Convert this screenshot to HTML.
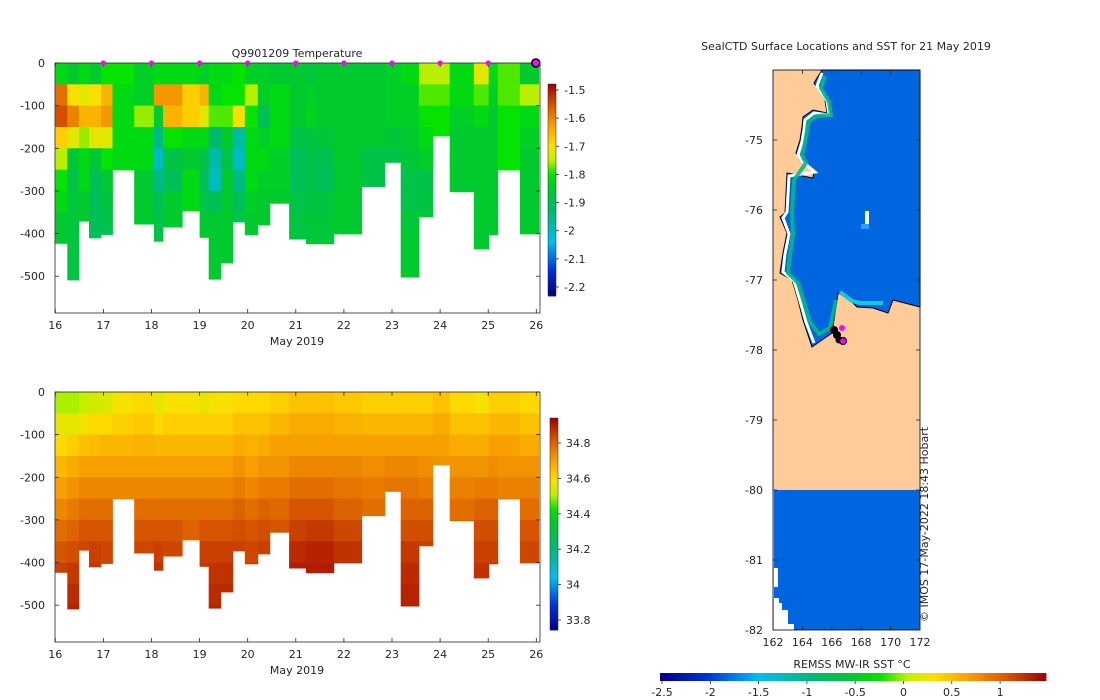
<!DOCTYPE html>
<html><head><meta charset="utf-8"><style>
body{margin:0;background:#fff;}
svg{display:block;font-family:"DejaVu Sans","Liberation Sans",sans-serif;}
text{font-size:11px;fill:#262626;}
</style></head><body>
<svg id="svg" width="1100" height="700" viewBox="0 0 1100 700">
<g id="top"></g>
<g id="bot"></g>
<g id="map">
  <rect x="773" y="70" width="147" height="560" fill="#ffcc99"/>
  <polygon fill="#0066e0" stroke="#000" stroke-width="1"
   points="822,70 814,83 825,100 827,113 813,110 803,117 802,127 800,140 796,153 800,160 814,170 813,178 787,173 785,213 780,217 787,233 783,253 780,273 792,280 798,300 803,320 812,347 832,333 838,293 850,300 857,307 873,308 888,313 893,300 920,307 920,70"/>
  <polyline fill="none" stroke="#fff" stroke-width="3"
   points="822,73 817,86 827,101 829,115 814,113 805,120 804,130 802,142 798,155 802,161 815,172 789,176 787,212 783,218 789,234 785,254 783,272 794,281 800,301 806,322 814,343"/>
  <polyline fill="none" stroke="#00b98a" stroke-width="4" stroke-opacity="0.9"
   points="825,76 821,88 829,102 831,115 817,116 808,122 807,131 805,143 802,155 806,163 794,180 792,212 793,235 790,255 788,273 798,283 804,302 810,322 819,334 830,328 836,300"/>
  <polyline fill="none" stroke="#18c8d8" stroke-width="4" points="840,292 852,301 860,303 883,303"/>
  <rect x="865" y="211" width="4" height="18" fill="#fff"/>
  <rect x="861" y="224" width="8" height="5" fill="#2aa0f0"/>
  <rect x="774" y="490" width="146" height="140" fill="#0066e0"/>
  <polygon fill="#fff" points="774,568 778,568 778,587 774,587"/>
  <polygon fill="#fff" points="774,598 779,598 779,603 782,603 782,610 788,610 788,624 794,624 794,630 774,630"/>
  <g>
    <circle cx="834" cy="330" r="4" fill="#000"/><circle cx="837" cy="335" r="4" fill="#000"/><circle cx="839" cy="340" r="3.5" fill="#000"/>
    <circle cx="842" cy="328" r="3" fill="#ff00ff"/>
    <circle cx="843" cy="341" r="3.5" fill="#ff00ff" stroke="#000" stroke-width="1.2"/>
  </g>
  <rect x="773" y="70" width="147" height="560" fill="none" stroke="#000" stroke-width="0.8"/>
</g>
</svg>
<script>
// ---------- section data ----------
const dayEdges=[16,16.25,16.49,16.70,16.95,17.19,17.64,18.05,18.24,18.64,19.0,19.19,19.44,19.69,19.94,20.21,20.46,20.86,21.21,21.42,21.79,22.37,22.85,23.18,23.56,23.85,24.20,24.70,25.01,25.20,25.66,26.05];
const maxDepth=[423,509,371,410,402,251,378,418,385,347,409,507,469,373,403,380,329,413,424,424,401,290,233,502,361,171,302,436,403,251,401];
const tempProfiles=[
[-1.82,-1.58,-1.55,-1.68,-1.75,-1.8,-1.82,-1.85,-1.85],
[-1.85,-1.7,-1.6,-1.72,-1.86,-1.88,-1.86,-1.86,-1.87,-1.87,-1.87],
[-1.82,-1.72,-1.65,-1.76,-1.82,-1.82,-1.85,-1.85],
[-1.85,-1.7,-1.65,-1.72,-1.86,-1.9,-1.9,-1.9,-1.9],
[-1.8,-1.65,-1.62,-1.72,-1.8,-1.85,-1.87,-1.88,-1.88],
[-1.8,-1.82,-1.82,-1.82,-1.82,-1.82],
[-1.84,-1.84,-1.76,-1.82,-1.82,-1.85,-1.85,-1.85],
[-1.82,-1.62,-1.85,-1.95,-2.0,-1.95,-1.9,-1.88,-1.88],
[-1.82,-1.62,-1.65,-1.8,-1.88,-1.9,-1.85,-1.85],
[-1.82,-1.68,-1.68,-1.82,-1.85,-1.82,-1.82],
[-1.84,-1.65,-1.72,-1.82,-1.88,-1.9,-1.88,-1.85,-1.85],
[-1.82,-1.82,-1.78,-1.93,-1.98,-2.0,-1.9,-1.85,-1.85,-1.85,-1.85],
[-1.82,-1.8,-1.78,-1.85,-1.88,-1.85,-1.85,-1.85,-1.85,-1.85],
[-1.8,-1.8,-1.7,-1.98,-2.0,-1.95,-1.9,-1.88],
[-1.84,-1.75,-1.8,-1.82,-1.82,-1.82,-1.84,-1.85,-1.86],
[-1.84,-1.84,-1.9,-1.84,-1.82,-1.84,-1.85,-1.85],
[-1.85,-1.82,-1.82,-1.82,-1.84,-1.84,-1.85],
[-1.85,-1.85,-1.85,-1.88,-1.9,-1.9,-1.88,-1.87,-1.87],
[-1.86,-1.84,-1.83,-1.87,-1.88,-1.88,-1.87,-1.86,-1.86],
[-1.85,-1.85,-1.85,-1.86,-1.89,-1.9,-1.87,-1.86,-1.86],
[-1.85,-1.85,-1.85,-1.85,-1.85,-1.85,-1.85,-1.85,-1.85],
[-1.85,-1.85,-1.85,-1.85,-1.88,-1.88],
[-1.84,-1.84,-1.84,-1.86,-1.88],
[-1.82,-1.84,-1.84,-1.85,-1.86,-1.88,-1.88,-1.86,-1.85,-1.85,-1.85],
[-1.75,-1.78,-1.8,-1.82,-1.84,-1.88,-1.87,-1.85],
[-1.75,-1.78,-1.8,-1.8],
[-1.82,-1.82,-1.84,-1.85,-1.85,-1.85,-1.85],
[-1.72,-1.78,-1.82,-1.85,-1.85,-1.85,-1.85,-1.85,-1.85],
[-1.82,-1.84,-1.85,-1.85,-1.85,-1.85,-1.85,-1.85,-1.85],
[-1.78,-1.78,-1.8,-1.8,-1.8,-1.8],
[-1.85,-1.75,-1.82,-1.84,-1.85,-1.85,-1.85,-1.85,-1.85]];
const salProfiles=[
[34.5,34.56,34.6,34.66,34.7,34.74,34.78,34.82,34.85],
[34.5,34.56,34.62,34.68,34.72,34.76,34.8,34.83,34.86,34.88,34.89],
[34.52,34.58,34.64,34.7,34.74,34.78,34.82,34.84],
[34.53,34.6,34.65,34.7,34.74,34.78,34.82,34.85,34.86],
[34.54,34.6,34.66,34.7,34.74,34.78,34.82,34.84,34.85],
[34.58,34.62,34.66,34.7,34.74,34.76],
[34.6,34.63,34.67,34.7,34.74,34.78,34.82,34.84],
[34.56,34.6,34.66,34.7,34.74,34.78,34.82,34.85,34.87],
[34.58,34.62,34.66,34.7,34.74,34.78,34.82,34.84],
[34.58,34.62,34.66,34.7,34.74,34.78,34.8],
[34.56,34.62,34.66,34.7,34.74,34.78,34.82,34.85,34.86],
[34.58,34.62,34.66,34.7,34.74,34.78,34.82,34.85,34.87,34.88,34.89],
[34.58,34.62,34.66,34.7,34.74,34.78,34.82,34.85,34.87,34.88],
[34.6,34.64,34.68,34.72,34.76,34.8,34.83,34.85],
[34.6,34.64,34.67,34.7,34.74,34.78,34.82,34.84,34.86],
[34.6,34.64,34.68,34.72,34.76,34.8,34.83,34.85],
[34.62,34.66,34.7,34.72,34.76,34.79,34.82],
[34.64,34.68,34.7,34.74,34.78,34.82,34.85,34.88,34.9],
[34.64,34.68,34.7,34.74,34.78,34.82,34.86,34.89,34.9],
[34.64,34.68,34.7,34.74,34.78,34.82,34.86,34.89,34.9],
[34.63,34.67,34.7,34.74,34.77,34.8,34.84,34.87,34.88],
[34.62,34.66,34.7,34.73,34.76,34.78],
[34.62,34.66,34.7,34.74,34.77],
[34.62,34.66,34.7,34.74,34.77,34.8,34.83,34.86,34.88,34.89,34.9],
[34.62,34.66,34.7,34.73,34.76,34.8,34.83,34.85],
[34.64,34.68,34.7,34.72],
[34.6,34.64,34.68,34.72,34.75,34.78,34.8],
[34.58,34.64,34.68,34.72,34.76,34.8,34.83,34.85,34.87],
[34.62,34.66,34.7,34.73,34.76,34.8,34.83,34.85,34.86],
[34.62,34.66,34.7,34.72,34.75,34.78],
[34.6,34.64,34.68,34.72,34.75,34.78,34.82,34.84,34.85]];
const markerDays=[17,18,19,20,21,22,23,24,25];
const xTicks=[16,17,18,19,20,21,22,23,24,25,26];
const yTicks=[0,-100,-200,-300,-400,-500];
const tempCbTicks=[-1.5,-1.6,-1.7,-1.8,-1.9,-2,-2.1,-2.2];
const salCbTicks=[34.8,34.6,34.4,34.2,34,33.8];
const sstTicks=[-2.5,-2,-1.5,-1,-0.5,0,0.5,1];
const mapLonTicks=[162,164,166,168,170,172];
const mapLatTicks=[-75,-76,-77,-78,-79,-80,-81,-82];

const NS='http://www.w3.org/2000/svg';
function el(tag,attrs,parent,txt){const e=document.createElementNS(NS,tag);for(const k in attrs)e.setAttribute(k,attrs[k]);if(txt!==undefined)e.textContent=txt;parent.appendChild(e);return e;}
const stops=[[0,[0,0,130]],[0.12,[0,50,220]],[0.25,[0,190,240]],[0.4,[0,185,110]],[0.5,[0,200,50]],[0.57,[0,228,0]],[0.64,[190,240,0]],[0.71,[255,222,0]],[0.8,[248,160,0]],[0.9,[215,85,0]],[1,[160,0,0]]];
function cmap(f){f=Math.max(0,Math.min(1,f));for(let i=1;i<stops.length;i++){if(f<=stops[i][0]){const a=stops[i-1],b=stops[i];const t=(f-a[0])/(b[0]-a[0]);const c=a[1].map((v,j)=>Math.round(v+(b[1][j]-v)*t));return `rgb(${c})`;}}return 'rgb(160,0,0)';}
const xOf=d=>55.3+(d-16)*48.1;
const L=55,R=540;

function section(g,top,profiles,vmin,vmax,cbTop,cbBot,cbX,cbTicks,cbScale,cbRef,cbRefY,prefix){
  const yOf=d=>top+d*0.4264;
  const bottom=top+250;
  for(let c=0;c<profiles.length;c++){
    const x0=xOf(dayEdges[c]),x1=xOf(dayEdges[c+1]);
    const p=profiles[c];
    for(let i=0;i<p.length;i++){
      const d0=i*50,d1=Math.min((i+1)*50,maxDepth[c]);
      if(d0>=maxDepth[c])break;
      const r=el('rect',{x:x0.toFixed(1),y:yOf(d0).toFixed(1),width:(x1-x0+0.4).toFixed(1),height:(yOf(d1)-yOf(d0)+0.4).toFixed(1),fill:cmap((p[i]-vmin)/(vmax-vmin))},g);
      
      
    }
  }
  el('rect',{x:L,y:top,width:R-L,height:bottom-top,fill:'none',stroke:'#262626','stroke-width':0.8},g);
  for(const t of xTicks){const x=xOf(t);el('line',{x1:x,x2:x,y1:bottom,y2:bottom-4,stroke:'#262626','stroke-width':0.8},g);el('line',{x1:x,x2:x,y1:top,y2:top+4,stroke:'#262626','stroke-width':0.8},g);
    const tx=el('text',{x:x,y:bottom+16,'text-anchor':'middle'},g,String(t));}
  for(const t of yTicks){const y=yOf(-t);el('line',{x1:L,x2:L+4,y1:y,y2:y,stroke:'#262626','stroke-width':0.8},g);el('line',{x1:R,x2:R-4,y1:y,y2:y,stroke:'#262626','stroke-width':0.8},g);
    const tx=el('text',{x:L-10,y:y+4,'text-anchor':'end'},g,String(t));}
  const xl=el('text',{x:297,y:bottom+32,'text-anchor':'middle'},g,'May 2019');
  const cb=el('g',{},g);
  const valAt=y=>cbRef+(cbRefY-y)/cbScale;
  for(let y=cbTop;y<cbBot;y+=2){const v=valAt(y+1);el('rect',{x:cbX,y:y,width:8,height:2.4,fill:cmap((v-vmin)/(vmax-vmin))},cb);}
  el('rect',{x:cbX,y:cbTop,width:8,height:cbBot-cbTop,fill:'none',stroke:'#262626','stroke-width':0.5},cb);
  for(const t of cbTicks){const y=cbRefY+(cbRef-t)*cbScale;el('line',{x1:cbX+8,x2:cbX+11,y1:y,y2:y,stroke:'#262626','stroke-width':0.8},cb);el('text',{x:cbX+16,y:y+4},cb,String(t));}
}
const topG=document.getElementById('top'),botG=document.getElementById('bot');
section(topG,63,tempProfiles,-2.229,-1.479,84,295,548,tempCbTicks,281.4,-1.5,90,'temp');
section(botG,392,salProfiles,33.74,34.94,418,630,550,salCbTicks,177,34.8,443,'sal');
const title=el('text',{x:297,y:57,'text-anchor':'middle'},topG,'Q9901209  Temperature');


for(const d of markerDays){const m=el('circle',{cx:xOf(d),cy:63,r:2.6,fill:'#ff00ff'},topG);

}
const cur=el('circle',{cx:xOf(26)-0.5,cy:63,r:4,fill:'#ff00ff',stroke:'#000','stroke-width':1.6},topG);



// ---------- map ----------
const svg=document.getElementById('svg');const mapG=document.getElementById('map');
const lonX=l=>773+(l-162)*14.7, latY=la=>140+(-75-la)*70;
for(const l of mapLonTicks){const x=lonX(l);el('line',{x1:x,x2:x,y1:630,y2:626,stroke:'#262626','stroke-width':0.8},mapG);el('line',{x1:x,x2:x,y1:70,y2:74,stroke:'#262626','stroke-width':0.8},mapG);
 const t=el('text',{x:x,y:646,'text-anchor':'middle'},mapG,String(l));}
for(const la of mapLatTicks){const y=latY(la);el('line',{x1:773,x2:777,y1:y,y2:y,stroke:'#262626','stroke-width':0.8},mapG);el('line',{x1:920,x2:916,y1:y,y2:y,stroke:'#262626','stroke-width':0.8},mapG);
 const t=el('text',{x:763,y:y+4,'text-anchor':'end'},mapG,String(la));}
const mt=el('text',{x:846,y:50,'text-anchor':'middle'},svg,'SealCTD Surface Locations and SST for 21 May 2019');


const cr=el('text',{x:0,y:0,transform:'translate(928,622) rotate(-90)','font-size':'10.5'},svg,'© IMOS 17-May-2022 18:43 Hobart');


const sg=el('g',{},svg);
const sx=v=>662+(v+2.5)*96.6;
const sstMin=-2.5,sstMax=1.47;
for(let x=660;x<1045;x+=2){const v=(x+1-662)/96.6-2.5;el('rect',{x:x,y:673,width:2.4,height:8,fill:cmap((v-sstMin)/(sstMax-sstMin))},sg);}
for(const t of sstTicks){const x=sx(t);el('line',{x1:x,x2:x,y1:681,y2:684,stroke:'#262626','stroke-width':0.8},sg);el('text',{x:x,y:696,'text-anchor':'middle'},sg,String(t));}
const sl=el('text',{x:852,y:668,'text-anchor':'middle'},svg,'REMSS MW-IR SST °C');


</script>
</body></html>
